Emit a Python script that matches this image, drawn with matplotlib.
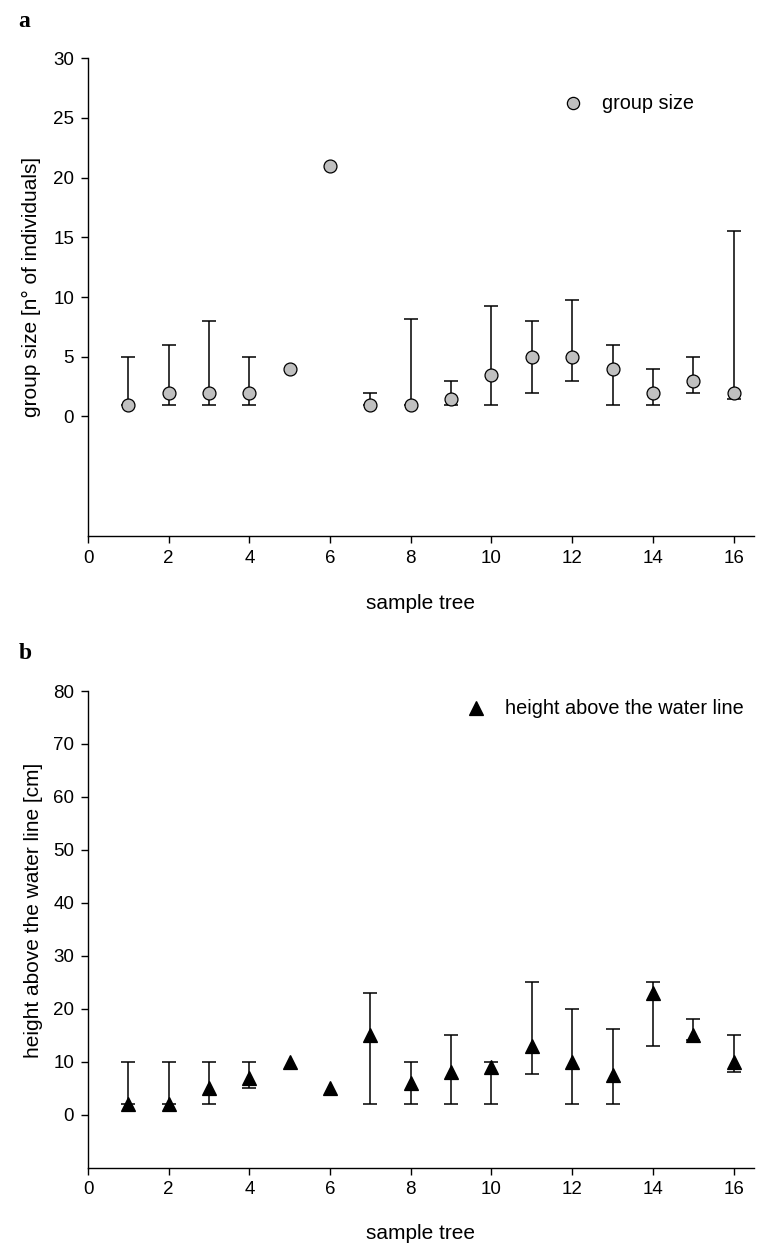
import numpy as np
import matplotlib
matplotlib.use("Agg")
import matplotlib.pyplot as plt

plt.rcParams['font.family'] = ['Liberation Sans', 'DejaVu Sans']

trees = np.arange(1, 17)

# panel a: group size
group_size = [1, 2, 2, 2, 4, 21, 1, 1, 1.5, 3.5, 5, 5, 4, 2, 3, 2]
group_low = [1, 1, 1, 1, np.nan, np.nan, 1, 1, 1, 1, 2, 3, 1, 1, 2, 1.5]
group_high = [5, 6, 8, 5, np.nan, np.nan, 2, 8.2, 3, 9.25, 8, 9.75, 6, 4, 5, 15.5]

# panel b: height above water line
height = [2, 2, 5, 7, 10, 5, 15, 6, 8, 9, 13, 10, 7.5, 23, 15, 10]
height_low = [2, 2, 2, 5, np.nan, np.nan, 2, 2, 2, 2, 7.7, 2, 2, 13, 14, 8]
height_high = [10, 10, 10, 10, np.nan, np.nan, 23, 10, 15, 10, 25, 20, 16.2, 25, 18, 15]

xticks = [0, 2, 4, 6, 8, 10, 12, 14, 16]
yticks_a = [0, 5, 10, 15, 20, 25, 30]
yticks_b = [0, 10, 20, 30, 40, 50, 60, 70, 80]

fig = plt.figure(figsize=(7.6, 12.48), dpi=100)
axa = fig.add_axes([0.1158, 0.5706, 0.876, 0.3827])
axb = fig.add_axes([0.1158, 0.0645, 0.876, 0.3818])

TFS = 13.5
LFS = 15
GFS = 14.3


def panel(ax, x, y, lo, hi, marker, face, label, ylim, yticks, ylabel,
          ylab_xy, xlab_y, leg_xy):
    y = np.asarray(y, float)
    lo = np.asarray(lo, float)
    hi = np.asarray(hi, float)
    m = ~np.isnan(lo)
    ax.errorbar(x[m], y[m], yerr=[y[m] - lo[m], hi[m] - y[m]], fmt='none',
                ecolor='black', elinewidth=1.1, capsize=5.3, capthick=1.1, zorder=2)
    ms = 9.3 if marker == 'o' else 10
    ax.plot(x, y, linestyle='none', marker=marker, markersize=ms,
            markerfacecolor=face, markeredgecolor='black', markeredgewidth=0.9, zorder=3)
    ax.set_xlim(0, 16.5)
    ax.set_ylim(*ylim)
    ax.set_xticks(xticks)
    ax.set_yticks(yticks)
    ax.tick_params(direction='out', length=5, width=1.0, labelsize=TFS, pad=5)
    for s in ['top', 'right']:
        ax.spines[s].set_visible(False)
    for s in ['left', 'bottom']:
        ax.spines[s].set_linewidth(1.0)
    ax.set_xlabel('sample tree', fontsize=LFS)
    ax.set_ylabel(ylabel, fontsize=LFS)
    ax.yaxis.set_label_coords(*ylab_xy)
    ax.xaxis.set_label_coords(0.5, xlab_y)
    # legend key
    ax.plot([leg_xy[0]], [leg_xy[1]], transform=ax.transAxes, clip_on=False,
            linestyle='none', marker=marker, markersize=ms - 0.5,
            markerfacecolor=face, markeredgecolor='black', markeredgewidth=0.9)
    ax.text(leg_xy[0] + 0.043, leg_xy[1], label, transform=ax.transAxes,
            fontsize=GFS, va='center', ha='left')


panel(axa, trees, group_size, group_low, group_high, 'o', '#c0c0c0', 'group size',
      (-10, 30), yticks_a, 'group size [n° of individuals]',
      (-0.07, 0.521), -0.122, (0.729, 0.906))
panel(axb, trees, height, height_low, height_high, '^', 'black', 'height above the water line',
      (-10, 80), yticks_b, 'height above the water line [cm]',
      (-0.068, 0.54), -0.118, (0.583, 0.964))

fig.text(0.024, 0.983, 'a', fontsize=17, fontweight='bold', family='Liberation Serif', va='center')
fig.text(0.024, 0.476, 'b', fontsize=17, fontweight='bold', family='Liberation Serif', va='center')

fig.savefig('out.png', dpi=100)
